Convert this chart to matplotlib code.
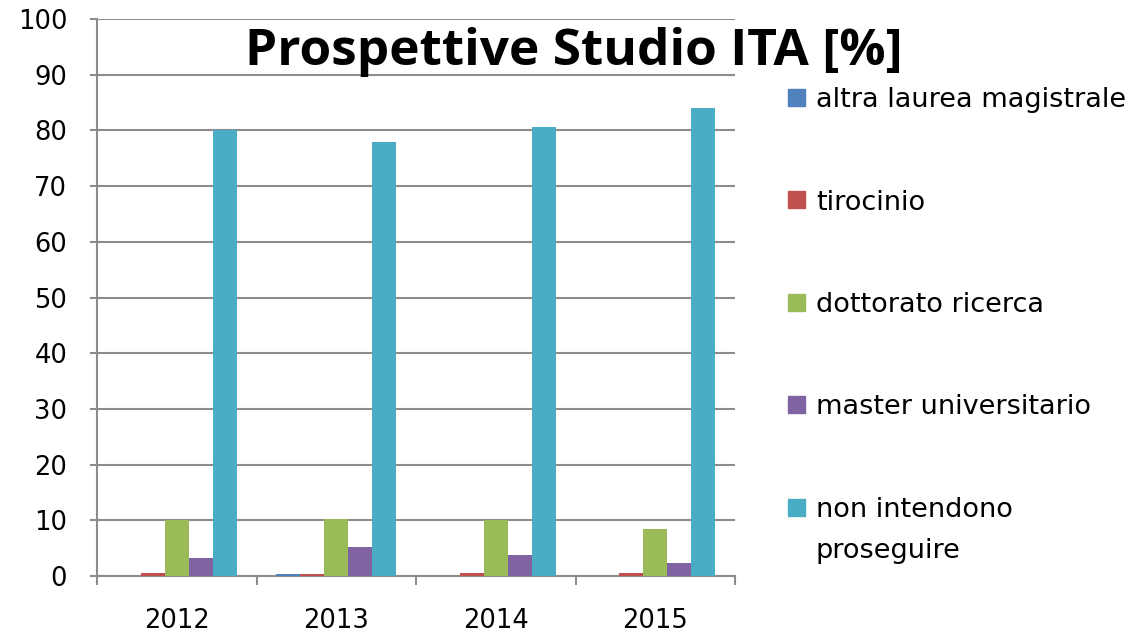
import matplotlib
matplotlib.use("Agg")
from matplotlib import pyplot as plt
from matplotlib.patches import Rectangle
import numpy as np

# data
anni = ["2012", "2013", "2014", "2015"]
serie = ["altra laurea magistrale", "tirocinio", "dottorato ricerca",
         "master universitario", "non intendono\nproseguire"]
altra_laurea = [0.0, 0.4, 0.0, 0.0]
tirocinio = [0.5, 0.4, 0.5, 0.5]
dottorato = [10.0, 10.2, 10.0, 8.4]
master = [3.3, 5.2, 3.7, 2.4]
non_proseguono = [80.0, 78.0, 80.7, 84.0]
colori = ["#4F81BD", "#C0504D", "#9BBB59", "#8064A2", "#4BACC6"]

plt.rcParams['font.family'] = ['DejaVu Sans']

W, H = 1133, 638
fig = plt.figure(figsize=(W / 100, H / 100), dpi=100)
ax = fig.add_axes([97/W, 62/H, (735-97)/W, (576-19)/H])

x = np.arange(len(anni))
w = 0.15
valori = [altra_laurea, tirocinio, dottorato, master, non_proseguono]
for k, (vals, col) in enumerate(zip(valori, colori)):
    ax.bar(x + (k - 2) * w, vals, width=w, color=col, zorder=3)

ax.set_xlim(-0.5, 3.5)
ax.set_ylim(0, 100)
ax.set_yticks(range(0, 101, 10))
ax.yaxis.grid(True, color="#8c8c8c", linewidth=1.5, zorder=0)
ax.set_xticks(x)
ax.set_xticklabels(anni)
ax.set_xticks(np.arange(-0.5, 4.0, 1.0), minor=True)
ax.tick_params(axis='x', which='major', length=0, labelsize=18.5, pad=23)
ax.tick_params(axis='x', which='minor', length=6.5, width=1.5, color="#8c8c8c")
ax.tick_params(axis='y', length=5, width=1.5, color="#8c8c8c", labelsize=18.5, pad=16.5)

for s in ["top", "right"]:
    ax.spines[s].set_visible(False)
for s in ["left", "bottom"]:
    ax.spines[s].set_color("#8c8c8c")
    ax.spines[s].set_linewidth(1.5)

fig.text(574/W, 1 - 65/H, "Prospettive Studio ITA [%]", fontsize=37,
         fontweight='bold', ha='center', va='baseline', family='Open Sans')

# legend on the right, one entry every ~103 px
for k, (lab, col) in enumerate(zip(serie, colori)):
    yc = 97 + 102.5 * k
    fig.patches.append(Rectangle((788/W, 1 - (yc + 8.5)/H), 17/W, 17/H,
                                 transform=fig.transFigure, color=col))
    for j, riga in enumerate(lab.split("\n")):
        fig.text(816/W, 1 - (yc + 10 + 41 * j)/H, riga, fontsize=19.5, va='baseline')

plt.savefig('out.png', dpi=100)
